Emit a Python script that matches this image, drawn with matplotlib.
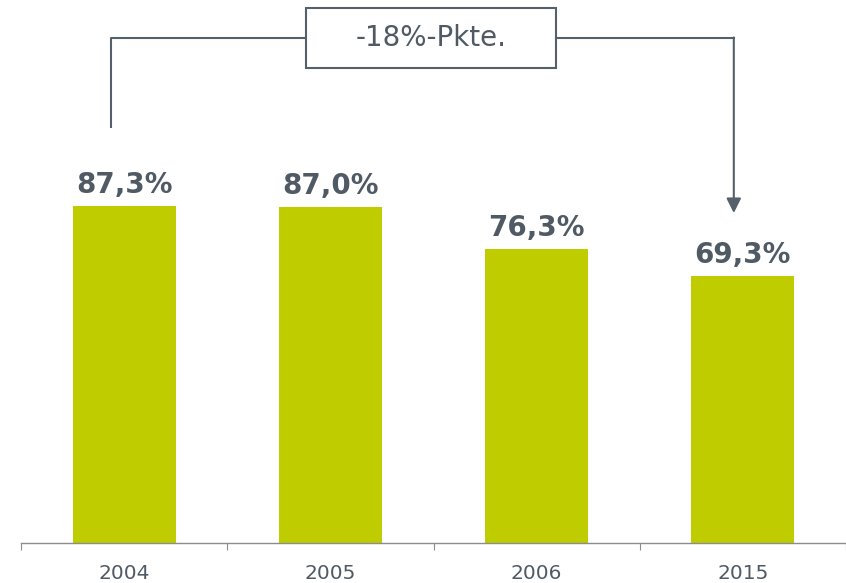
import matplotlib.pyplot as plt
from matplotlib.patches import Rectangle

# ─── DATA ───────────────────────────────────────────────────────────────────
years  = ["2004", "2005", "2006", "2015"]
shares = [87.3, 87.0, 76.3, 69.3]
labels = ["87,3%", "87,0%", "76,3%", "69,3%"]
delta_text = "-18%-Pkte."

BAR_COLOR  = "#BFCC00"
TEXT_COLOR = "#505A64"
LINE_COLOR = "#56606B"

# ─── FIGURE ─────────────────────────────────────────────────────────────────
fig = plt.figure(figsize=(8.46, 5.83), dpi=100)
ax = fig.add_axes([21 / 846, 40 / 583, 825 / 846, 543 / 583])

x = list(range(len(years)))
bars = ax.bar(x, shares, width=0.5, color=BAR_COLOR)
ax.bar_label(bars, labels=labels, padding=5, fontsize=20, fontweight="bold",
             color=TEXT_COLOR, family="DejaVu Sans")

ax.set_xlim(-0.5, len(years) - 0.5)
ax.set_ylim(0, 140.7)

for s in ["top", "right", "left"]:
    ax.spines[s].set_visible(False)
ax.spines["bottom"].set_color("#8C8C8C")
ax.spines["bottom"].set_linewidth(1.0)
ax.set_yticks([])

# boundary ticks (major) and centred labels (minor)
ax.set_xticks([i - 0.5 for i in range(len(years) + 1)])
ax.set_xticklabels([])
ax.tick_params(axis="x", which="major", length=5, color="#8C8C8C", direction="out")
ax.set_xticks(x, minor=True)
ax.set_xticklabels(years, minor=True)
ax.tick_params(axis="x", which="minor", length=0, pad=15, labelsize=14.5,
               labelcolor=TEXT_COLOR)

# ─── DIFFERENCE ANNOTATION ──────────────────────────────────────────────────
y_line = 130.8
box_l, box_r = 0.882, 2.094
x_from, x_to = -0.066, 2.956

ax.plot([x_from, x_from, box_l], [107.5, y_line, y_line], color=LINE_COLOR,
        lw=1.5, solid_capstyle="butt", clip_on=False)
ax.plot([box_r, x_to], [y_line, y_line], color=LINE_COLOR, lw=1.5, clip_on=False)
ax.annotate("", xy=(x_to, 85.5), xytext=(x_to, y_line + 0.2),
            arrowprops=dict(arrowstyle="-|>", color=LINE_COLOR, lw=1.5,
                            mutation_scale=22, shrinkA=0, shrinkB=0),
            annotation_clip=False)
ax.add_patch(Rectangle((box_l, 123.1), box_r - box_l, 15.5, fill=False,
                       edgecolor=LINE_COLOR, lw=1.5, clip_on=False))
ax.text((box_l + box_r) / 2, y_line, delta_text, ha="center", va="center",
        fontsize=20, color=TEXT_COLOR)

fig.savefig("out.png", dpi=100)
